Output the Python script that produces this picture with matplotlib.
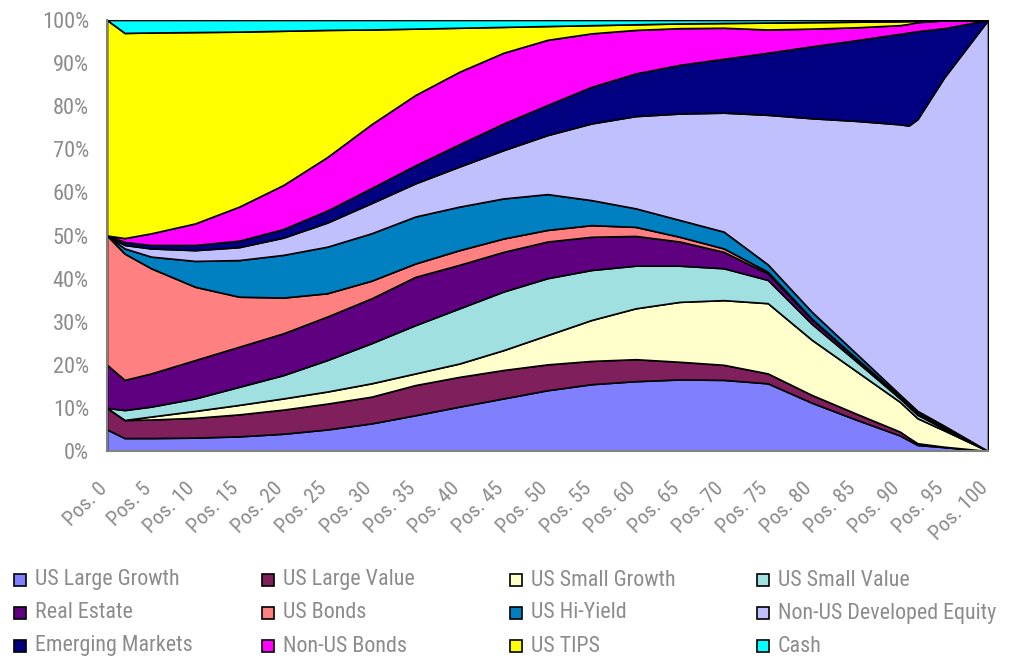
import os
import numpy as np
import matplotlib
matplotlib.use("Agg")
import matplotlib.pyplot as plt
import matplotlib.font_manager as fm
from matplotlib.patches import Rectangle

# glide path positions where values were read
positions = [0, 2, 5, 10, 15, 20, 25, 30, 35, 40, 45, 50, 55, 60, 65, 70, 75, 80, 85, 90, 91, 92, 95, 100]
tick_positions = list(range(0, 101, 5))
tick_labels = [f"Pos. {p}" for p in tick_positions]

# allocations (%) per asset class
us_large_growth = [5.0, 3.0, 3.0, 3.1, 3.4, 4.0, 5.0, 6.4, 8.3, 10.3, 12.2, 14.1, 15.5, 16.2, 16.6, 16.5, 15.7, 11.2, 7.3, 3.6, 2.5, 1.4, 0.9, 0.0]
us_large_value = [5.0, 4.2, 4.3, 4.6, 5.1, 5.6, 6.0, 6.2, 7.0, 6.9, 6.6, 6.0, 5.4, 5.1, 4.1, 3.5, 2.3, 1.8, 1.4, 0.9, 0.6, 0.4, 0.1, 0.0]
us_small_growth = [0.0, 0.0, 0.7, 1.6, 2.2, 2.6, 2.8, 3.1, 2.7, 3.1, 4.6, 6.8, 9.5, 11.8, 13.9, 15.0, 16.3, 12.8, 9.9, 6.9, 6.4, 5.8, 3.8, 0.0]
us_small_value = [0.0, 2.3, 2.3, 2.9, 4.2, 5.4, 7.3, 9.3, 11.2, 12.8, 13.6, 13.2, 11.6, 9.9, 8.4, 7.4, 5.4, 3.7, 2.3, 0.8, 0.8, 0.8, 0.4, 0.0]
real_estate = [10.0, 7.0, 7.7, 8.9, 9.3, 9.7, 10.1, 10.4, 11.2, 10.1, 9.2, 8.5, 7.7, 6.9, 5.6, 3.8, 1.5, 1.0, 0.6, 0.4, 0.4, 0.3, 0.2, 0.0]
us_bonds = [30.0, 29.3, 24.4, 17.0, 11.6, 8.3, 5.4, 4.1, 3.1, 3.4, 3.1, 2.7, 2.7, 2.1, 1.1, 0.8, 0.4, 0.2, 0.1, 0.1, 0.1, 0.1, 0.1, 0.0]
us_hi_yield = [0.0, 1.2, 2.7, 6.0, 8.5, 9.9, 10.8, 11.0, 10.9, 10.1, 9.3, 8.3, 5.8, 4.3, 3.9, 3.9, 1.7, 1.6, 1.1, 0.4, 0.4, 0.5, 0.4, 0.0]
non_us_dev_equity = [0.0, 0.8, 1.9, 2.5, 3.0, 4.0, 5.6, 7.0, 7.7, 9.3, 11.2, 13.7, 17.8, 21.4, 24.7, 27.6, 34.7, 44.9, 53.9, 62.7, 64.3, 67.7, 80.7, 100.0]
emerging_markets = [0.0, 0.7, 0.8, 1.2, 1.5, 2.0, 2.8, 3.5, 4.2, 5.2, 6.2, 7.0, 8.5, 9.9, 11.3, 12.5, 14.4, 16.7, 18.7, 21.0, 21.6, 20.4, 11.5, 0.0]
non_us_bonds = [0.0, 0.9, 2.7, 5.0, 7.9, 10.2, 12.4, 14.8, 16.3, 16.8, 16.4, 15.1, 12.4, 10.1, 8.5, 7.2, 5.4, 4.1, 3.0, 2.0, 2.0, 2.1, 1.8, 0.0]
us_tips = [50.0, 47.6, 46.6, 44.4, 40.6, 35.8, 29.5, 22.0, 15.4, 10.2, 6.0, 3.2, 1.9, 1.3, 1.1, 1.1, 1.6, 1.5, 1.3, 0.9, 0.65, 0.3, 0.1, 0.0]
cash = [0.0, 3.0, 2.9, 2.8, 2.7, 2.5, 2.3, 2.2, 2.0, 1.8, 1.6, 1.4, 1.2, 1.0, 0.8, 0.7, 0.6, 0.5, 0.4, 0.3, 0.25, 0.2, 0.0, 0.0]

names = ["US Large Growth", "US Large Value", "US Small Growth", "US Small Value",
         "Real Estate", "US Bonds", "US Hi-Yield", "Non-US Developed Equity",
         "Emerging Markets", "Non-US Bonds", "US TIPS", "Cash"]
series = [us_large_growth, us_large_value, us_small_growth, us_small_value,
          real_estate, us_bonds, us_hi_yield, non_us_dev_equity,
          emerging_markets, non_us_bonds, us_tips, cash]
colors = ['#8080FF', '#7F1F5C', '#FFFFCC', '#A0E0E0',
          '#5E0080', '#FF8080', '#0080C0', '#C0C0FF',
          '#000080', '#FF00FF', '#FFFF00', '#00FFFF']

# pick a narrow / condensed font if one is installed
prefer = ['LiberationSansNarrow-Regular', 'RobotoCondensed-Regular', 'OpenSans_Condensed-Regular',
          'OpenSansCondensed-Light', 'NotoSans-CondensedLight', 'NotoSans-Condensed',
          'DejaVuSansCondensed.', 'LiberationSans-Regular']
files = [f.fname for f in fm.fontManager.ttflist]
font_file = None
for key in prefer:
    hits = [f for f in files if key in os.path.basename(f)]
    if hits:
        font_file = hits[0]
        break
fp = fm.FontProperties(fname=font_file) if font_file else fm.FontProperties(family='DejaVu Sans')

W, H = 1009, 658
fig = plt.figure(figsize=(W / 100, H / 100), dpi=100)
renderer = fig.canvas.get_renderer()


def fit(text, target_px):
    # font size that gives the text the wanted width in pixels
    p = fp.copy()
    p.set_size(10)
    t = fig.text(0, 0, text, fontproperties=p)
    w = t.get_window_extent(renderer).width
    t.remove()
    return 10 * target_px / w


legend_size = fit("US Large Growth", 144)
ytick_size = fit("100%", 47)
xtick_size = fit("Pos. 0", 52)

# 100% stacked
data = np.array(series, dtype=float)
data = data / data.sum(axis=0) * 100

ax = fig.add_axes([107 / W, 1 - 451 / H, 881 / W, 431 / H])
ax.stackplot(positions, *data, colors=colors, edgecolor='black', linewidth=1.2)

ax.set_xlim(0, 100)
ax.set_ylim(0, 100)
grey = '#8c8c8c'
yp = fp.copy(); yp.set_size(ytick_size)
xp = fp.copy(); xp.set_size(xtick_size)
ax.set_yticks(range(0, 101, 10))
ax.set_yticklabels([f"{v}%" for v in range(0, 101, 10)], fontproperties=yp, color=grey)

# rotated category labels, top-right end a little left of and below each tick
ax.set_xticks(tick_positions)
ax.set_xticklabels([])
for p, lab in zip(tick_positions, tick_labels):
    ax.annotate(lab, xy=(p, 0), xycoords=('data', 'axes fraction'),
                xytext=(-7, -20), textcoords='offset points',
                rotation=45, rotation_mode='anchor', ha='right', va='top',
                fontproperties=xp, color=grey, annotation_clip=False)

ax.tick_params(axis='y', length=0, pad=13)
ax.tick_params(axis='x', length=0)
for side in ['top', 'right']:
    ax.spines[side].set_visible(False)
for side in ['left', 'bottom']:
    ax.spines[side].set_color('#808080')
    ax.spines[side].set_linewidth(1.5)

# legend, 4 columns x 3 rows, row-wise order
lp = fp.copy(); lp.set_size(legend_size)
col_x = [14, 262, 510, 757]
row_y = [580, 613, 646]
for i, (name, c) in enumerate(zip(names, colors)):
    r, k = divmod(i, 4)
    x0, y0 = col_x[k], row_y[r]
    fig.add_artist(Rectangle((x0 / W, 1 - (y0 + 6) / H), 12 / W, 12 / H,
                             transform=fig.transFigure, facecolor=c,
                             edgecolor='black', linewidth=1.2))
    fig.text((x0 + 21) / W, 1 - y0 / H, name, fontproperties=lp, color=grey,
             va='center', ha='left')

fig.savefig("out.png", dpi=100)
